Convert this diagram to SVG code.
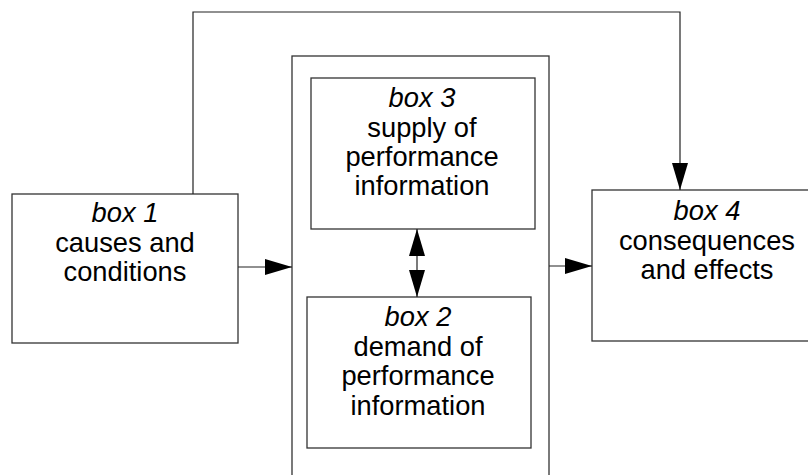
<svg xmlns="http://www.w3.org/2000/svg" width="808" height="475" viewBox="0 0 808 475">
  <defs>
    <marker id="arrow" markerUnits="userSpaceOnUse" markerWidth="28" markerHeight="16" refX="27" refY="8" orient="auto-start-reverse">
      <path d="M0,0 L27,8 L0,16 z" fill="#000"/>
    </marker>
  </defs>
  <style>
    .box { fill: #fff; stroke: #333; stroke-width: 1.3; }
    .wire { fill: none; stroke: #222; stroke-width: 1.2; }
    text { font-family: "Liberation Sans", Arial, sans-serif; font-size: 27.3px; fill: #000; text-anchor: middle; }
    .title { font-style: italic; }
  </style>
  <rect width="808" height="475" fill="#fff"/>

  <g id="container">
    <rect class="box" x="292" y="56" width="257" height="430"/>
  </g>

  <g id="box1">
    <rect class="box" x="12" y="194" width="226" height="149"/>
    <text x="125" y="222" class="title">box 1</text>
    <text x="125" y="252">causes and</text>
    <text x="125" y="281">conditions</text>
  </g>

  <g id="box3">
    <rect class="box" x="311" y="78" width="224" height="151"/>
    <text x="422" y="107" class="title">box 3</text>
    <text x="422" y="137">supply of</text>
    <text x="422" y="166">performance</text>
    <text x="422" y="195">information</text>
  </g>

  <g id="box2">
    <rect class="box" x="307" y="297" width="224" height="151"/>
    <text x="418" y="326" class="title">box 2</text>
    <text x="418" y="356">demand of</text>
    <text x="418" y="385">performance</text>
    <text x="418" y="415">information</text>
  </g>

  <g id="box4">
    <rect class="box" x="592" y="190" width="230" height="151"/>
    <text x="707" y="220" class="title">box 4</text>
    <text x="707" y="250">consequences</text>
    <text x="707" y="279">and effects</text>
  </g>

  <g id="connectors">
    <path class="wire" d="M193,194 V12 H680 V190" marker-end="url(#arrow)"/>
    <path class="wire" d="M238,267 H292" marker-end="url(#arrow)"/>
    <path class="wire" d="M549,266 H592" marker-end="url(#arrow)"/>
    <path class="wire" d="M417,229 V297" marker-start="url(#arrow)" marker-end="url(#arrow)"/>
  </g>
</svg>
